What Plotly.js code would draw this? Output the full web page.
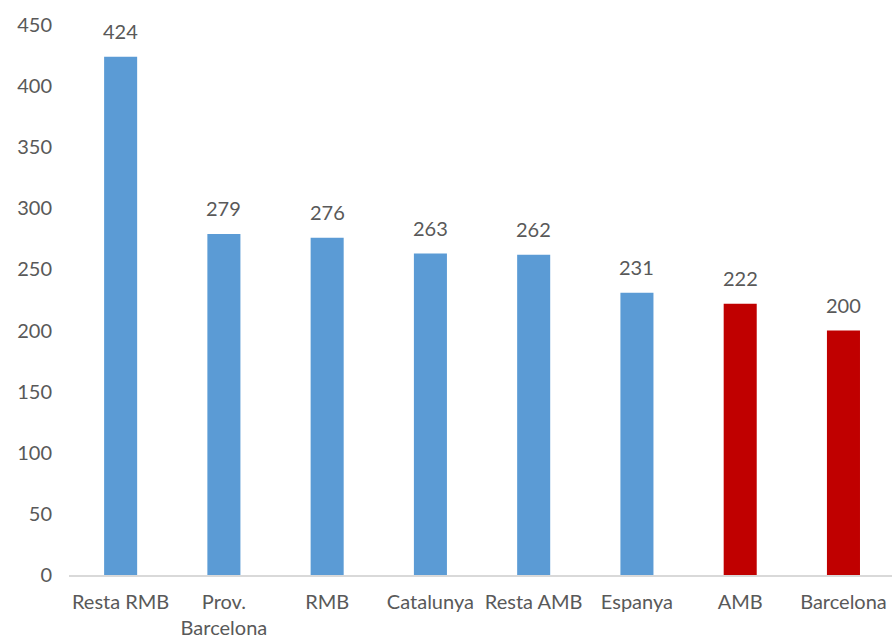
<!DOCTYPE html>
<html>
<head>
<meta charset="utf-8">
<script src="https://cdn.plot.ly/plotly-3.0.1.min.js"></script>
<style>html,body{margin:0;padding:0;background:#fff;}#chart{width:892px;height:643px;}</style>
</head>
<body>
<div id="chart"></div>
<script>
const categories = ["Resta RMB", "Prov.<br>Barcelona", "RMB", "Catalunya", "Resta AMB", "Espanya", "AMB", "Barcelona"];
const values = [424, 279, 276, 263, 262, 231, 222, 200];
const barColors = ["#5B9BD5", "#5B9BD5", "#5B9BD5", "#5B9BD5", "#5B9BD5", "#5B9BD5", "#C00000", "#C00000"];
const yTicks = [0, 50, 100, 150, 200, 250, 300, 350, 400, 450];

const fontFam = "Lato, 'Open Sans', sans-serif";
const textColor = "#595959";

const trace = {
  type: "bar",
  x: categories,
  y: values,
  marker: {color: barColors},
  width: 0.32,
  hoverinfo: "none"
};

const annotations = categories.map((c, i) => ({
  x: c, y: values[i], xref: "x", yref: "y",
  text: String(values[i]), showarrow: false,
  yanchor: "bottom", yshift: 12,
  font: {family: fontFam, size: 20, color: textColor}
}));

const layout = {
  width: 892, height: 643,
  margin: {l: 69, r: 0, t: 25, b: 68},
  paper_bgcolor: "#fff", plot_bgcolor: "#fff",
  showlegend: false,
  bargap: 0.68,
  xaxis: {
    type: "category",
    range: [-0.5, 7.47],
    showgrid: false, zeroline: false,
    showline: true, linecolor: "#D9D9D9", linewidth: 2,
    ticks: "", tickfont: {family: fontFam, size: 20, color: textColor},
    ticklabelstandoff: 8
  },
  yaxis: {
    range: [0, 450],
    tickvals: yTicks,
    showgrid: false, zeroline: false, showline: false,
    ticks: "", tickfont: {family: fontFam, size: 20, color: textColor},
    ticklabelstandoff: 16
  },
  annotations: annotations
};

Plotly.newPlot("chart", [trace], layout, {staticPlot: true, displayModeBar: false});
</script>
</body>
</html>
